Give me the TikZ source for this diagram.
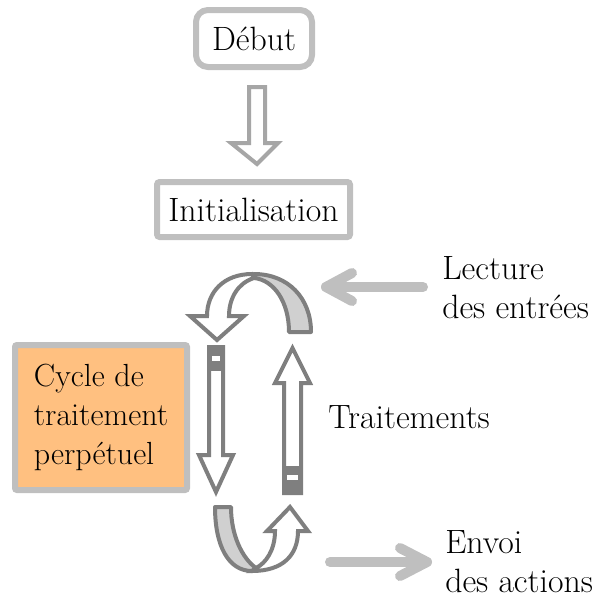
\documentclass[tikz,border=0pt]{standalone}
\definecolor{boxgray}{HTML}{BFBFBF}
\definecolor{arrowgray}{HTML}{7F7F7F}
\definecolor{lightarrow}{HTML}{A6A6A6}
\definecolor{bandgray}{HTML}{D0D0D0}
\definecolor{cycleorange}{HTML}{FFC080}
\begin{document}
\begin{tikzpicture}[x=0.75pt,y=-0.75pt,
  every node/.style={font=\fontsize{25.3}{29}\selectfont, inner sep=0pt},
  boxline/.style={draw=boxgray, line width=4.5pt},
  blockarrow/.style={draw=arrowgray, line width=3pt, line join=miter, fill=white},
  bandstyle/.style={draw=arrowgray, line width=3pt, line join=round, fill=bandgray},
  darkblock/.style={fill=arrowgray, draw=arrowgray, line width=1pt},
  slot/.style={fill=white},
  flowarrow/.style={draw=boxgray, line width=7.5pt, line cap=round, line join=round}]
\useasboundingbox (0,0) rectangle (610,601);

% boxes
\node[boxline, rounded corners=9pt, minimum width=87pt, minimum height=42.75pt] (debut) at (254,38.5) {Début};
\node[boxline, rounded corners=2pt, minimum width=144.75pt, minimum height=41.25pt] (init) at (253.5,209.5) {Initialisation};
\node[boxline, rounded corners=1.5pt, fill=cycleorange, minimum width=129pt, minimum height=108.75pt, align=left, font=\fontsize{24}{29}\selectfont] (cycle) at (101,417.5) {Cycle de\\traitement\\perpétuel};

% hollow arrow from Début to Initialisation
\draw[blockarrow, draw=lightarrow] (249,87) -- (265,87) -- (265,143) -- (278,143) -- (257,164) -- (231,143) -- (249,143) -- cycle;

% top curved arrow
\draw[bandstyle] (254,274) .. controls (288,274) and (311,298) .. (311,332) -- (289,332) .. controls (289,302) and (274,280) .. (254,278) -- cycle;
\draw[blockarrow] (252,274) .. controls (224,274) and (207,292) .. (207,316) -- (190,316) -- (217,340) -- (244,316) -- (229,316) .. controls (229,298) and (238,283) .. (254,278) -- cycle;

% left down arrow
\draw[blockarrow] (209,347) -- (223,347) -- (223,455) -- (233,455) -- (216,492) -- (199,455) -- (209,455) -- cycle;
\draw[darkblock] (209,347) rectangle (223,370);
\fill[slot] (212,356) rectangle (220,361);

% right up arrow
\draw[blockarrow] (284,493) -- (301,493) -- (301,383) -- (310,383) -- (292.5,348) -- (275,383) -- (284,383) -- cycle;
\draw[darkblock] (284,467) rectangle (301,493);
\fill[slot] (287,475) rectangle (298,480);

% bottom curved arrow
\draw[bandstyle] (215,507) .. controls (215,545) and (228,571) .. (252,571) -- (256,568) .. controls (242,558) and (231,535) .. (231,507) -- cycle;
\draw[blockarrow] (252,571) .. controls (283,571) and (298,555) .. (298,531) -- (308,531) -- (290,507) -- (267,531) -- (275,531) .. controls (275,550) and (266,563) .. (256,568) -- cycle;

% labels (base anchor = last line)
\node[anchor=base west, align=left] (lecture) at (442,318) {Lecture\\des entrées};
\node[anchor=base west] (traitements) at (328,428) {Traitements};
\node[anchor=base west, align=left] (envoi) at (445,592) {Envoi\\des actions};

% input / output arrows
\coordinate (inS) at (423,287);
\coordinate (inT) at (326,287);
\draw[flowarrow] (inS) -- (inT);
\draw[flowarrow] (352,273) -- (inT) -- (352,301);
\coordinate (outS) at (330,562);
\coordinate (outT) at (427,562);
\draw[flowarrow] (outS) -- (outT);
\draw[flowarrow] (400,548) -- (outT) -- (400,576);
\end{tikzpicture}
\end{document}
